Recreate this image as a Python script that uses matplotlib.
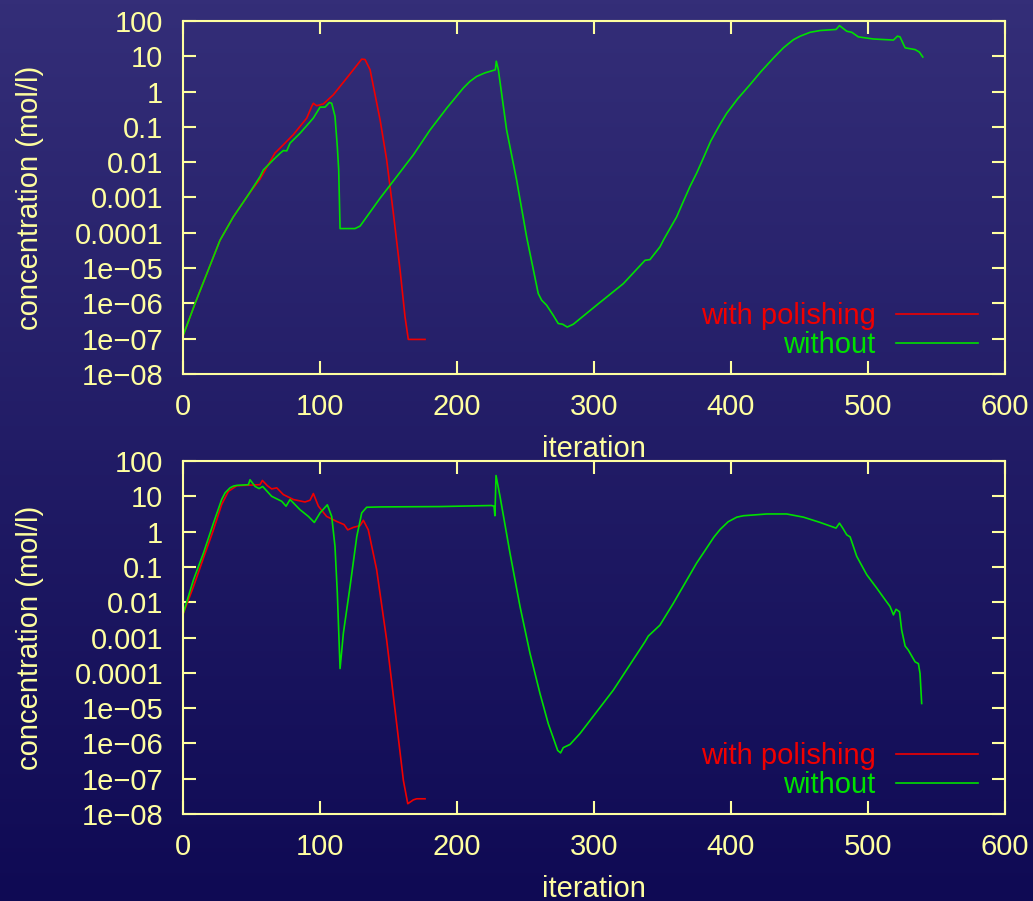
import matplotlib
matplotlib.use('Agg')
import matplotlib.pyplot as plt
import numpy as np
from matplotlib.ticker import FixedLocator, FixedFormatter, NullLocator

plt.rcParams['font.family'] = ['Liberation Sans', 'DejaVu Sans']

# ---------------- data ----------------
x_ticks = [0, 100, 200, 300, 400, 500, 600]
x_tick_labels = ['0', '100', '200', '300', '400', '500', '600']
y_ticks = [1e2, 1e1, 1e0, 1e-1, 1e-2, 1e-3, 1e-4, 1e-5, 1e-6, 1e-7, 1e-8]
y_tick_labels = ['100', '10', '1', '0.1', '0.01', '0.001', '0.0001',
                 '1e\u221205', '1e\u221206', '1e\u221207', '1e\u221208']
series_labels = ['with polishing', 'without']

# top panel, "without" (green): iteration, log10(concentration)
top_green_x = [0, 9.0, 27.2, 36.9, 47.9, 56.4, 58.8, 66.1, 71.0, 73.4, 75.9, 78.3,
               85.6, 95.3, 100.2, 103.8, 107.0, 108.7, 111.1, 112.8, 113.8, 114.8,
               125.7, 129.4, 134.2, 144.0, 156.1, 168.3, 180.4, 192.6, 204.7, 209.6,
               214.5, 220.5, 226.6, 228.1, 228.8, 230.3, 236.3, 243.6, 250.9, 259.4,
               261.9, 265.5, 270.4, 274.0, 277.2, 280.6, 285.0, 302.0, 321.5, 337.3,
               340.9, 348.2, 350.7, 355.5, 360.4, 365.2, 370.1, 375.0, 379.8, 385.3,
               392.0, 397.0, 405.0, 414.0, 422.0, 431.0, 438.3, 445.6, 450.5, 457.8,
               465.1, 476.7, 479.2, 484.5, 488.2, 493.0, 504.0, 518.6, 521.5, 523.4,
               527.1, 534.4, 537.5, 540.0]
top_green_log = [-6.94, -6.0, -4.21, -3.55, -2.92, -2.41, -2.22, -1.93, -1.75, -1.67,
                 -1.68, -1.46, -1.18, -0.75, -0.44, -0.44, -0.31, -0.33, -0.70, -1.56,
                 -2.22, -3.88, -3.88, -3.81, -3.55, -3.02, -2.41, -1.79, -1.09, -0.47,
                 0.10, 0.29, 0.43, 0.53, 0.60, 0.62, 0.86, 0.62, -1.08, -2.50, -4.11,
                 -5.72, -5.91, -6.05, -6.34, -6.57, -6.59, -6.67, -6.59, -6.05, -5.44,
                 -4.78, -4.76, -4.40, -4.21, -3.88, -3.55, -3.12, -2.69, -2.31, -1.89,
                 -1.40, -0.93, -0.61, -0.20, 0.20, 0.57, 0.95, 1.24, 1.47, 1.57, 1.68,
                 1.73, 1.76, 1.87, 1.71, 1.68, 1.55, 1.49, 1.46, 1.57, 1.55, 1.24, 1.19,
                 1.12, 0.98]

# top panel, "with polishing" (red)
top_red_x = [0, 9.0, 27.2, 36.9, 47.9, 56.4, 67.3, 71.0, 80.7, 90.5, 94.1, 95.3, 97.7,
             102.6, 109.9, 119.6, 124.5, 130.6, 133.0, 136.7, 144.0, 148.8, 153.7,
             158.6, 162.2, 164.6, 176.8]
top_red_log = [-6.94, -6.0, -4.21, -3.55, -2.92, -2.48, -1.74, -1.60, -1.22, -0.75,
               -0.42, -0.33, -0.40, -0.35, -0.09, 0.38, 0.62, 0.92, 0.91, 0.62, -0.80,
               -1.93, -3.45, -5.06, -6.38, -7.02, -7.02]

# bottom panel, "without" (green)
bot_green_x = [0, 7.8, 15.1, 22.4, 28.4, 30.9, 34.5, 37.0, 39.4, 47.9, 49.1, 52.8, 55.7,
               58.3, 64.9, 72.2, 75.4, 78.3, 85.6, 91.7, 96.0, 100.2, 105.5, 108.7,
               111.1, 112.8, 114.8, 117.2, 122.1, 127.0, 130.6, 134.2, 144.0, 187.7,
               225.4, 227.1, 227.8, 228.6, 231.5, 238.8, 246.1, 253.4, 260.7, 266.7,
               273.6, 275.7, 277.7, 282.6, 289.9, 314.2, 337.3, 339.7, 348.2, 358.0,
               375.0, 382.4, 387.5, 392.1, 398.0, 404.3, 409.1, 426.1, 440.7, 452.9,
               465.1, 476.7, 479.2, 481.6, 484.5, 487.0, 491.8, 499.1, 506.4, 512.5,
               516.1, 518.6, 520.5, 523.0, 524.6, 527.1, 529.5, 534.4, 536.8, 538.0,
               539.2]
bot_green_log = [-2.36, -1.37, -0.61, 0.24, 0.91, 1.10, 1.24, 1.29, 1.31, 1.33, 1.47,
                 1.28, 1.22, 1.28, 1.00, 0.86, 0.72, 0.91, 0.62, 0.43, 0.26, 0.53, 0.76,
                 0.43, -0.42, -1.74, -3.88, -2.88, -1.55, -0.14, 0.53, 0.69, 0.70, 0.71,
                 0.74, 0.72, 0.45, 1.59, 1.00, -0.61, -2.12, -3.45, -4.59, -5.44, -6.20,
                 -6.27, -6.12, -6.03, -5.72, -4.49, -3.12, -2.96, -2.65, -2.03, -0.89,
                 -0.46, -0.16, 0.06, 0.28, 0.41, 0.45, 0.50, 0.50, 0.41, 0.26, 0.10,
                 0.24, 0.10, -0.09, -0.15, -0.70, -1.22, -1.60, -1.93, -2.12, -2.36,
                 -2.20, -2.27, -2.79, -3.24, -3.36, -3.69, -3.74, -4.02, -4.87]

# bottom panel, "with polishing" (red)
bot_red_x = [0, 7.8, 15.1, 22.4, 28.4, 33.3, 39.4, 56.4, 58.1, 61.8, 64.9, 68.6, 73.4,
             80.7, 89.2, 92.9, 95.3, 99.0, 105.0, 112.3, 117.7, 120.4, 124.5, 129.4,
             131.8, 135.4, 141.5, 148.8, 156.1, 161.0, 164.2, 168.3, 170.7, 176.8]
bot_red_log = [-2.36, -1.56, -0.75, 0.05, 0.77, 1.14, 1.30, 1.33, 1.45, 1.30, 1.21,
               1.24, 1.05, 0.91, 0.84, 0.89, 1.08, 0.72, 0.43, 0.29, 0.20, 0.05, 0.12,
               0.17, 0.32, 0.05, -1.08, -3.07, -5.44, -7.05, -7.71, -7.60, -7.57, -7.57]

# ---------------- styling ----------------
FG = '#ffffa0'
RED = '#f00000'
GREEN = '#00e000'
FS = 21

fig = plt.figure(figsize=(10.33, 9.01), dpi=100)

# vertical background gradient
bg = fig.add_axes([0, 0, 1, 1], zorder=-10)
top_c = np.array([52, 46, 120]) / 255.0
bot_c = np.array([15, 10, 84]) / 255.0
t = np.linspace(0, 1, 256)[:, None]
img = top_c[None, None, :] * (1 - t[:, :, None]) + bot_c[None, None, :] * t[:, :, None]
img = np.repeat(img, 2, axis=1)
bg.imshow(img, aspect='auto', extent=[0, 1, 0, 1], origin='upper')
bg.set_axis_off()

panels = [
    ([0.1769, 0.5849, 0.7960, 0.3918], (top_red_x, top_red_log), (top_green_x, top_green_log)),
    ([0.1769, 0.0966, 0.7960, 0.3917], (bot_red_x, bot_red_log), (bot_green_x, bot_green_log)),
]

for rect, red, green in panels:
    ax = fig.add_axes(rect)
    ax.set_facecolor('none')
    ax.set_yscale('log')
    lr, = ax.plot(red[0], 10.0 ** np.array(red[1]), color=RED, lw=1.2,
                  label=series_labels[0])
    lg, = ax.plot(green[0], 10.0 ** np.array(green[1]), color=GREEN, lw=1.2,
                  label=series_labels[1])
    ax.set_xlim(0, 600)
    ax.set_ylim(1e-8, 100)
    ax.xaxis.set_major_locator(FixedLocator(x_ticks))
    ax.xaxis.set_major_formatter(FixedFormatter(x_tick_labels))
    ax.yaxis.set_major_locator(FixedLocator(y_ticks))
    ax.yaxis.set_major_formatter(FixedFormatter(y_tick_labels))
    ax.xaxis.set_minor_locator(NullLocator())
    ax.yaxis.set_minor_locator(NullLocator())
    ax.tick_params(which='both', direction='in', top=True, right=True,
                   length=9.4, width=1.5, color=FG, labelcolor=FG, labelsize=FS)
    ax.tick_params(axis='y', pad=14)
    ax.tick_params(axis='x', pad=14)
    for s in ax.spines.values():
        s.set_color(FG)
        s.set_linewidth(1.5)
    ax.set_xlabel('iteration', color=FG, fontsize=FS)
    ax.set_ylabel('concentration (mol/l)', color=FG, fontsize=FS)
    ax.xaxis.set_label_coords(0.5, -0.172)
    ax.yaxis.set_label_coords(-0.1687, 0.5)
    leg = ax.legend(handles=[lr, lg], loc='lower right', bbox_to_anchor=(0.967, 0.043),
                    frameon=False, markerfirst=False, handlelength=2.8,
                    handletextpad=0.7, labelspacing=0.02, fontsize=FS,
                    borderpad=0, borderaxespad=0, labelcolor='linecolor')

fig.savefig('out.png', dpi=100)
